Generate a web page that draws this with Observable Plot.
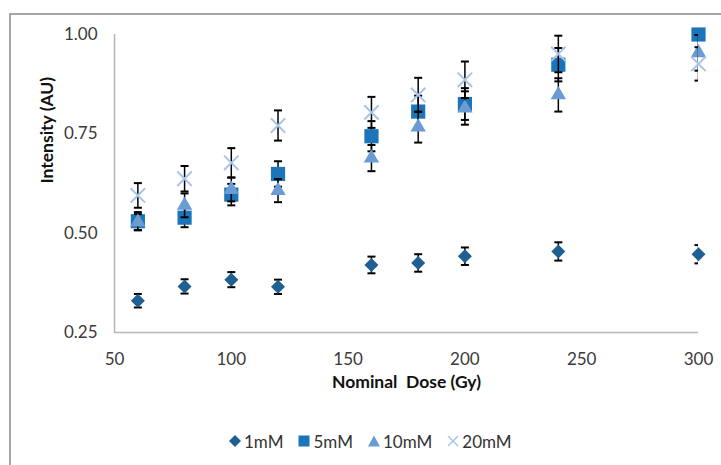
<!DOCTYPE html>
<html>
<head>
<meta charset="utf-8">
<script src="https://cdn.jsdelivr.net/npm/d3@7"></script>
<script src="https://cdn.jsdelivr.net/npm/@observablehq/plot@0.6"></script>
<style>
  html, body { margin: 0; padding: 0; background: #fff; }
  #wrap { position: relative; width: 721px; height: 465px; overflow: hidden; font-family: Lato, "Open Sans", sans-serif; }
  #frame { position: absolute; left: 9px; top: 13px; width: 900px; height: 600px; border-left: 2px solid #a6a6a6; border-top: 2px solid #a6a6a6; }
  #chart { position: absolute; left: 0; top: 0; }
  #legend { position: absolute; left: 229px; top: 430px; height: 22px; display: flex; align-items: center; font-size: 17px; color: #333; }
  .item { display: flex; align-items: center; margin-right: 15px; }
  .item svg { margin-right: 3px; }
</style>
</head>
<body>
<div id="wrap">
  <div id="frame"></div>
  <div id="chart"></div>
  <div id="legend"></div>
</div>
<script>
// ---- data ----
const doses = [60, 80, 100, 120, 160, 180, 200, 240, 300];
const seriesNames = ["1mM", "5mM", "10mM", "20mM"];
const mM1  = [0.330, 0.366, 0.383, 0.365, 0.420, 0.425, 0.442, 0.454, 0.447];
const err1 = [0.017, 0.018, 0.019, 0.018, 0.021, 0.022, 0.022, 0.023, 0.023];
const mM5  = [0.530, 0.539, 0.597, 0.649, 0.744, 0.806, 0.825, 0.924, 1.000];
const err5 = [0.023, 0.024, 0.027, 0.032, 0.038, 0.040, 0.040, 0.042, 0.045];
const mM10  = [0.528, 0.570, 0.610, 0.607, 0.689, 0.767, 0.815, 0.848, 0.954];
const err10 = [0.020, 0.030, 0.030, 0.029, 0.033, 0.039, 0.042, 0.042, 0.045];
const mM20  = [0.595, 0.637, 0.677, 0.771, 0.804, 0.848, 0.886, 0.951, 0.926];
const err20 = [0.031, 0.032, 0.037, 0.038, 0.039, 0.043, 0.046, 0.046, 0.042];
const xTicks = [50, 100, 150, 200, 250, 300];
const yTicks = [0.25, 0.50, 0.75, 1.00];

// ---- styling ----
const colors = ["#1f5f91", "#1b75b8", "#6b9bd3", "#aac4e7"];
const symbols = ["diamond2", "square", "triangle", "times"];
const radii = [6.3, 8.0, 5.7, 6.6];

const values = [mM1, mM5, mM10, mM20];
const errors = [err1, err5, err10, err20];
const rows = seriesNames.map((s, i) => doses.map((d, j) => ({
  series: s, dose: d, v: values[i][j], lo: values[i][j] - errors[i][j], hi: values[i][j] + errors[i][j]
})));

const capSymbol = {
  draw(context, size) {
    const r = Math.sqrt(size / Math.PI);
    context.moveTo(-r, 0);
    context.lineTo(r, 0);
  }
};

const seriesMarks = rows.flatMap((data, i) => [
  Plot.ruleX(data, {x: "dose", y1: "lo", y2: "hi", stroke: "#000", strokeWidth: 1.5, clip: true}),
  Plot.dot(data, {x: "dose", y: "lo", symbol: capSymbol, r: 4, stroke: "#000", strokeWidth: 2, fill: "none", clip: true}),
  Plot.dot(data, {x: "dose", y: "hi", symbol: capSymbol, r: 4, stroke: "#000", strokeWidth: 2, fill: "none", clip: true}),
  symbols[i] === "times"
    ? Plot.dot(data, {x: "dose", y: "v", symbol: "times", r: radii[i], stroke: colors[i], strokeWidth: 2, fill: "none"})
    : Plot.dot(data, {x: "dose", y: "v", symbol: symbols[i], r: radii[i], fill: colors[i], stroke: "none"})
]);

const chart = Plot.plot({
  width: 721,
  height: 410,
  marginLeft: 114,
  marginRight: 23,
  marginTop: 34,
  marginBottom: 78,
  x: {domain: [50, 300]},
  y: {domain: [0.25, 1.0]},
  style: {fontFamily: "Lato, 'Open Sans', sans-serif", fontSize: "17px", color: "#3a3a3a", background: "transparent", overflow: "visible"},
  marks: [
    Plot.ruleX([50], {stroke: "#b5b5b5", strokeWidth: 1.5}),
    Plot.ruleY([0.25], {stroke: "#b5b5b5", strokeWidth: 1.5}),
    Plot.axisX({ticks: xTicks, tickSize: 0, tickPadding: 20, label: null, fontSize: 17}),
    Plot.axisY({ticks: yTicks, tickFormat: d3.format(".2f"), tickSize: 0, tickPadding: 17, label: null, fontSize: 17}),
    ...seriesMarks,
    Plot.text(["Intensity (AU)"], {frameAnchor: "left", rotate: -90, dx: -67, fontWeight: "bold", fontSize: 17.5, fill: "#111"}),
    Plot.text(["Nominal\u00a0 Dose (Gy)"], {frameAnchor: "bottom", dy: 55, fontWeight: "bold", fontSize: 17.5, fill: "#111"})
  ]
});
document.getElementById("chart").appendChild(chart);

// ---- legend ----
const legend = document.getElementById("legend");
const legendShapes = [
  '<polygon points="6,0 12,6 6,12 0,6" fill="COLOR"/>',
  '<rect x="0.5" y="0.5" width="11" height="11" fill="COLOR"/>',
  '<polygon points="6,0.5 12,11.5 0,11.5" fill="COLOR"/>',
  '<path d="M1,1L11,11M1,11L11,1" stroke="COLOR" stroke-width="1.5" fill="none"/>'
];
seriesNames.forEach((name, i) => {
  const item = document.createElement("div");
  item.className = "item";
  item.innerHTML = '<svg width="12" height="12" viewBox="0 0 12 12">' + legendShapes[i].replace("COLOR", colors[i]) + '</svg><span>' + name + '</span>';
  legend.appendChild(item);
});
</script>
</body>
</html>
